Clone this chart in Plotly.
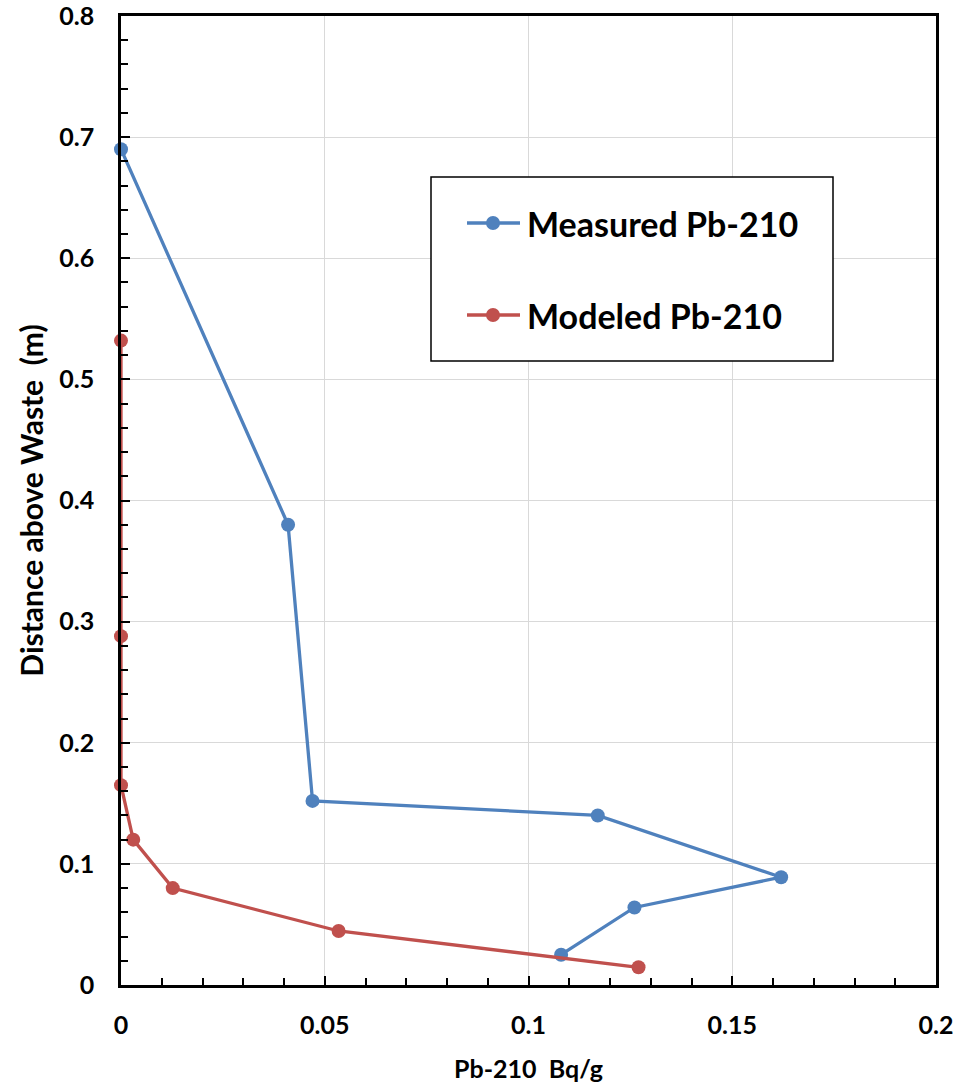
import plotly.graph_objects as go

# ---- data ----
measured_name = "Measured Pb-210"
measured_x = [0.0, 0.041, 0.047, 0.117, 0.162, 0.126, 0.108]
measured_y = [0.69, 0.38, 0.152, 0.140, 0.089, 0.064, 0.025]

modeled_name = "Modeled Pb-210"
modeled_x = [0.0, 0.0, 0.0, 0.003, 0.0127, 0.0534, 0.127]
modeled_y = [0.532, 0.288, 0.165, 0.120, 0.080, 0.0446, 0.0146]

x_title = "Pb-210 \u00a0Bq/g"
y_title = "Distance above Waste \u00a0(m)"

BLUE = "#4F81BD"
RED = "#C0504D"
FONT = "Lato"

fig = go.Figure()
fig.add_trace(go.Scatter(x=measured_x, y=measured_y, mode="lines+markers", name=measured_name,
                         line=dict(color=BLUE, width=3.3), marker=dict(color=BLUE, size=14),
                         cliponaxis=False))
fig.add_trace(go.Scatter(x=modeled_x, y=modeled_y, mode="lines+markers", name=modeled_name,
                         line=dict(color=RED, width=3.3), marker=dict(color=RED, size=14),
                         cliponaxis=False))

axis_common = dict(
    showline=True, linecolor="black", linewidth=2.5, mirror=True,
    ticks="inside", ticklen=9, tickwidth=2, tickcolor="black",
    showgrid=True, gridcolor="#D9D9D9", gridwidth=1.2,
    zeroline=False, automargin=False, ticklabeloverflow="allow",
    tickfont=dict(family=FONT, size=25, color="black", weight="bold"),
)

fig.update_xaxes(range=[0, 0.2], dtick=0.05, tick0=0,
                 minor=dict(ticks="inside", dtick=0.01, ticklen=7, tickwidth=2, tickcolor="black", showgrid=False),
                 ticklabelstandoff=16,
                 title=dict(text=x_title, font=dict(family=FONT, size=25, color="black", weight="bold"), standoff=25),
                 **axis_common)
fig.update_yaxes(range=[0, 0.8], dtick=0.1, tick0=0,
                 minor=dict(ticks="inside", dtick=0.02, ticklen=7, tickwidth=2, tickcolor="black", showgrid=False),
                 ticklabelstandoff=19,
                 title=dict(text=y_title, font=dict(family=FONT, size=30, color="black", weight="bold"), standoff=7),
                 **axis_common)

# ---- custom legend ----
def px_x(p):
    return (p - 121) / 815.0

def px_y(p):
    return (985 - p) / 969.0

shapes = [dict(type="rect", xref="paper", yref="paper",
               x0=px_x(431), x1=px_x(833), y0=px_y(361), y1=px_y(177),
               line=dict(color="black", width=1.5), fillcolor="white", layer="above")]
annotations = []
for name, color, cy in [(measured_name, BLUE, 223), (modeled_name, RED, 315)]:
    shapes.append(dict(type="line", xref="paper", yref="paper",
                       x0=px_x(467), x1=px_x(520), y0=px_y(cy), y1=px_y(cy),
                       line=dict(color=color, width=3.3), layer="above"))
    shapes.append(dict(type="circle", xref="paper", yref="paper",
                       xsizemode="pixel", ysizemode="pixel",
                       xanchor=px_x(493), yanchor=px_y(cy),
                       x0=-7, x1=7, y0=-7, y1=7,
                       line=dict(color=color, width=0), fillcolor=color, layer="above"))
    annotations.append(dict(xref="paper", yref="paper", x=px_x(525), y=px_y(cy),
                            xanchor="left", yanchor="middle", showarrow=False,
                            text=name, font=dict(family=FONT, size=34, color="black", weight="bold")))

fig.update_layout(
    width=959, height=1083,
    margin=dict(l=121, r=23, t=16, b=98),
    paper_bgcolor="white", plot_bgcolor="white",
    showlegend=False,
    shapes=shapes, annotations=annotations,
    font=dict(family=FONT, color="black"),
)

fig.write_html("out.html")
